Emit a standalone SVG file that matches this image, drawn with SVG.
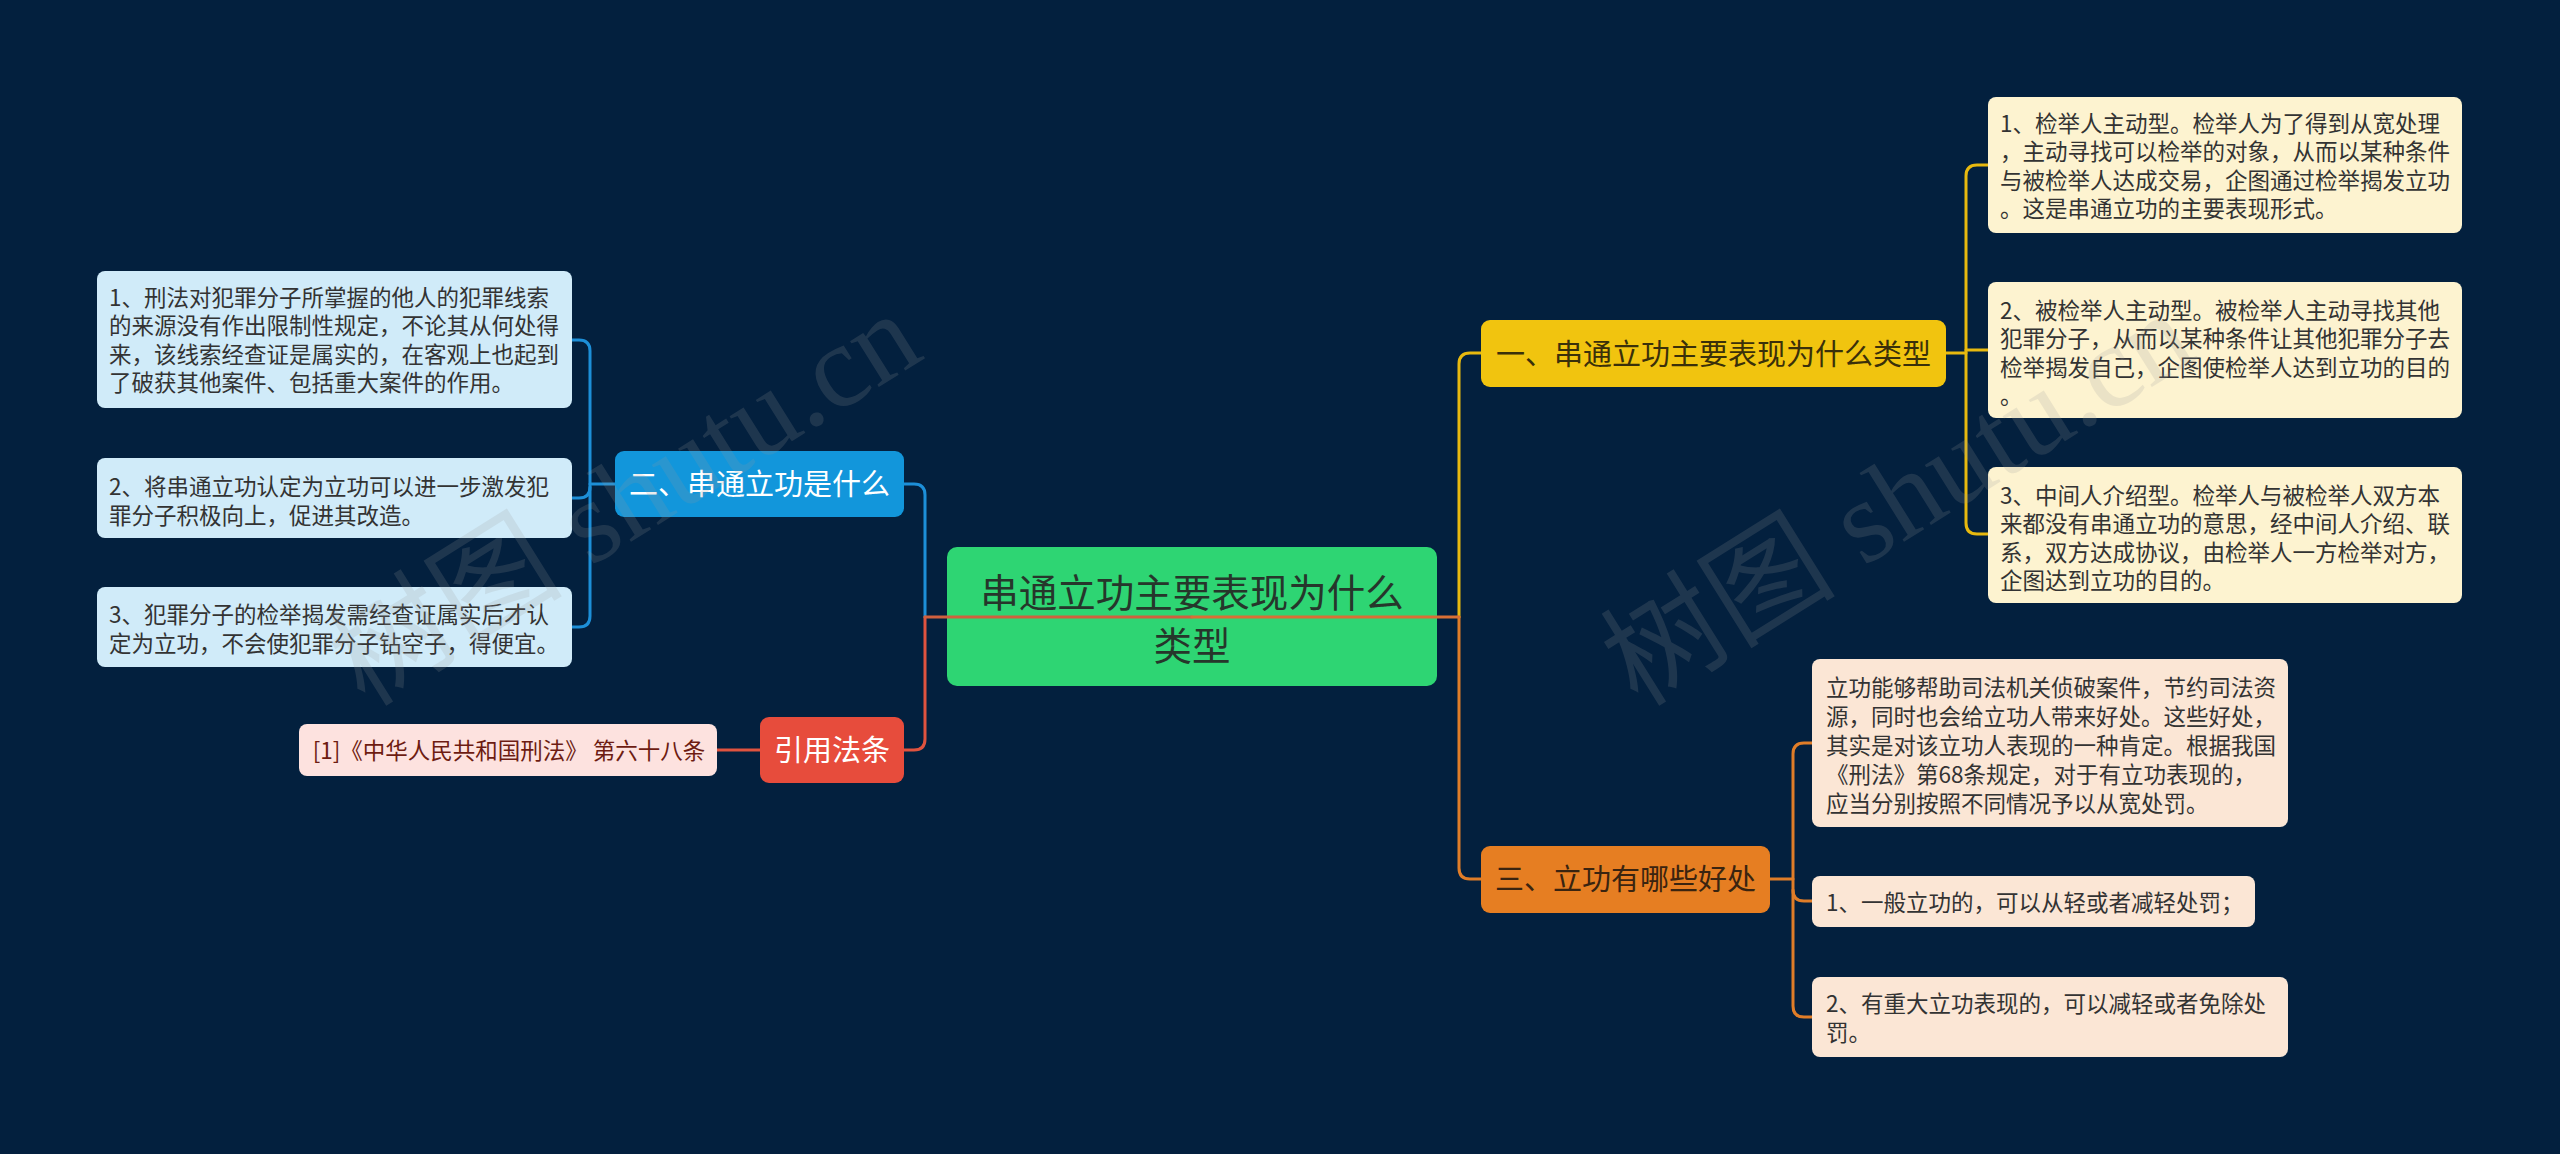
<svg xmlns="http://www.w3.org/2000/svg" width="2560" height="1154" viewBox="0 0 2560 1154">
<style>
.t{font-family:"Noto Sans CJK SC","Noto Sans",sans-serif;}
.box{font-size:22.5px;fill:#333333;}
.l1{font-size:29px;text-anchor:middle;}
.wm{font-family:"Liberation Serif","Noto Sans CJK SC",serif;font-size:118px;fill:#9a9a9a;opacity:0.18;}
.c{fill:none;stroke-width:3;stroke-linecap:round;stroke-linejoin:round;}
</style>
<rect x="0" y="0" width="2560" height="1154" fill="#03203e"/>
<g id="connectors">
  <path class="c" stroke="#1d8fd8" d="M925 617 V495 Q925 484 914 484 H904"/>
  <path class="c" stroke="#e0533f" d="M925 617 V739 Q925 750 914 750 H904"/>
  <path class="c" stroke="#e0533f" d="M760 750 H717"/>
  <path class="c" stroke="#1d8fd8" d="M615 484 H590"/>
  <path class="c" stroke="#1d8fd8" d="M572 340 H579 Q590 340 590 351 V616 Q590 627 579 627 H572"/>
  <path class="c" stroke="#1d8fd8" d="M572 498 H579 Q590 498 590 487"/>
  <path class="c" stroke="#e8b90f" d="M1459 617 V364 Q1459 353 1470 353 H1481"/>
  <path class="c" stroke="#e07d28" d="M1459 617 V868 Q1459 879 1470 879 H1481"/>
  <path class="c" stroke="#e8b90f" d="M1946 353 H1966"/>
  <path class="c" stroke="#e8b90f" d="M1988 165 H1977 Q1966 165 1966 176 V523 Q1966 534 1977 534 H1988"/>
  <path class="c" stroke="#e8b90f" d="M1966 350 H1988"/>
  <path class="c" stroke="#e07d28" d="M1770 879 H1793"/>
  <path class="c" stroke="#e07d28" d="M1812 743 H1804 Q1793 743 1793 754 V1006 Q1793 1017 1804 1017 H1812"/>
  <path class="c" stroke="#e07d28" d="M1793 890 Q1793 901 1804 901 H1812"/>
</g>
<g id="root">
  <rect x="947" y="547" width="490" height="139" rx="10" fill="#2ed573"/>
  <text class="t" x="1192" y="606.5" font-size="38.5" text-anchor="middle" fill="#26362b">串通立功主要表现为什么</text>
  <text class="t" x="1192" y="659.5" font-size="38.5" text-anchor="middle" fill="#26362b">类型</text>
</g>
<g id="center-lines">
  <path class="c" stroke="#d0603e" d="M1192 617 H925"/>
  <path class="c" stroke="#d96f35" d="M1192 617 H1459"/>
</g>
<g id="n-er">
  <rect x="615" y="451" width="289" height="66" rx="9" fill="#1296db"/>
  <text class="t l1" x="759.5" y="495" fill="#ffffff">二、串通立功是什么</text>
</g>
<g id="n-cite">
  <rect x="760" y="717" width="144" height="66" rx="9" fill="#e74c3c"/>
  <text class="t l1" x="832" y="761" fill="#ffffff">引用法条</text>
</g>
<g id="n-yi">
  <rect x="1481" y="320" width="465" height="67" rx="9" fill="#f1c40f"/>
  <text class="t l1" x="1713.5" y="365" fill="#3a300a">一、串通立功主要表现为什么类型</text>
</g>
<g id="n-san">
  <rect x="1481" y="846" width="289" height="67" rx="9" fill="#e67e22"/>
  <text class="t l1" x="1625.5" y="890" fill="#3a2410">三、立功有哪些好处</text>
</g>
<g id="b-left1">
  <rect x="97" y="271" width="475" height="137" rx="8" fill="#d0ebf9"/>
  <text class="t box" x="109" y="305.5">1、刑法对犯罪分子所掌握的他人的犯罪线索</text>
  <text class="t box" x="109" y="334">的来源没有作出限制性规定，不论其从何处得</text>
  <text class="t box" x="109" y="362.5">来，该线索经查证是属实的，在客观上也起到</text>
  <text class="t box" x="109" y="391">了破获其他案件、包括重大案件的作用。</text>
</g>
<g id="b-left2">
  <rect x="97" y="458" width="475" height="80" rx="8" fill="#d0ebf9"/>
  <text class="t box" x="109" y="495">2、将串通立功认定为立功可以进一步激发犯</text>
  <text class="t box" x="109" y="523.5">罪分子积极向上，促进其改造。</text>
</g>
<g id="b-left3">
  <rect x="97" y="587" width="475" height="80" rx="8" fill="#d0ebf9"/>
  <text class="t box" x="109" y="623">3、犯罪分子的检举揭发需经查证属实后才认</text>
  <text class="t box" x="109" y="651.5">定为立功，不会使犯罪分子钻空子，得便宜。</text>
</g>
<g id="b-cite">
  <rect x="299" y="724" width="418" height="52" rx="8" fill="#fde2df"/>
  <text class="t" x="509" y="759" font-size="22.5" text-anchor="middle" fill="#6d1c12">[1]《中华人民共和国刑法》 第六十八条</text>
</g>
<g id="b-right1">
  <rect x="1988" y="97" width="474" height="136" rx="8" fill="#fdf3d0"/>
  <text class="t box" x="2000" y="131.5">1、检举人主动型。检举人为了得到从宽处理</text>
  <text class="t box" x="2000" y="160">，主动寻找可以检举的对象，从而以某种条件</text>
  <text class="t box" x="2000" y="188.5">与被检举人达成交易，企图通过检举揭发立功</text>
  <text class="t box" x="2000" y="217">。这是串通立功的主要表现形式。</text>
</g>
<g id="b-right2">
  <rect x="1988" y="282" width="474" height="136" rx="8" fill="#fdf3d0"/>
  <text class="t box" x="2000" y="318.5">2、被检举人主动型。被检举人主动寻找其他</text>
  <text class="t box" x="2000" y="347">犯罪分子，从而以某种条件让其他犯罪分子去</text>
  <text class="t box" x="2000" y="375.5">检举揭发自己，企图使检举人达到立功的目的</text>
  <text class="t box" x="2000" y="404">。</text>
</g>
<g id="b-right3">
  <rect x="1988" y="467" width="474" height="136" rx="8" fill="#fdf3d0"/>
  <text class="t box" x="2000" y="503.5">3、中间人介绍型。检举人与被检举人双方本</text>
  <text class="t box" x="2000" y="532">来都没有串通立功的意思，经中间人介绍、联</text>
  <text class="t box" x="2000" y="560.5">系，双方达成协议，由检举人一方检举对方，</text>
  <text class="t box" x="2000" y="589">企图达到立功的目的。</text>
</g>
<g id="b-orange1">
  <rect x="1812" y="659" width="476" height="168" rx="8" fill="#fbe6d5"/>
  <text class="t box" x="1826" y="695.5">立功能够帮助司法机关侦破案件，节约司法资</text>
  <text class="t box" x="1826" y="724.5">源，同时也会给立功人带来好处。这些好处，</text>
  <text class="t box" x="1826" y="753.5">其实是对该立功人表现的一种肯定。根据我国</text>
  <text class="t box" x="1826" y="782.5">《刑法》第68条规定，对于有立功表现的，</text>
  <text class="t box" x="1826" y="811.5">应当分别按照不同情况予以从宽处罚。</text>
</g>
<g id="b-orange2">
  <rect x="1812" y="876" width="443" height="51" rx="8" fill="#fbe6d5"/>
  <text class="t box" x="1826" y="911">1、一般立功的，可以从轻或者减轻处罚；</text>
</g>
<g id="b-orange3">
  <rect x="1812" y="977" width="476" height="80" rx="8" fill="#fbe6d5"/>
  <text class="t box" x="1826" y="1012">2、有重大立功表现的，可以减轻或者免除处</text>
  <text class="t box" x="1826" y="1040.5">罚。</text>
</g>
<g id="watermark">
  <text class="wm" x="365" y="708" transform="rotate(-32 365 708)">树图 shutu.cn</text>
  <text class="wm" x="1638" y="708" transform="rotate(-32 1638 708)">树图 shutu.cn</text>
</g>
</svg>
